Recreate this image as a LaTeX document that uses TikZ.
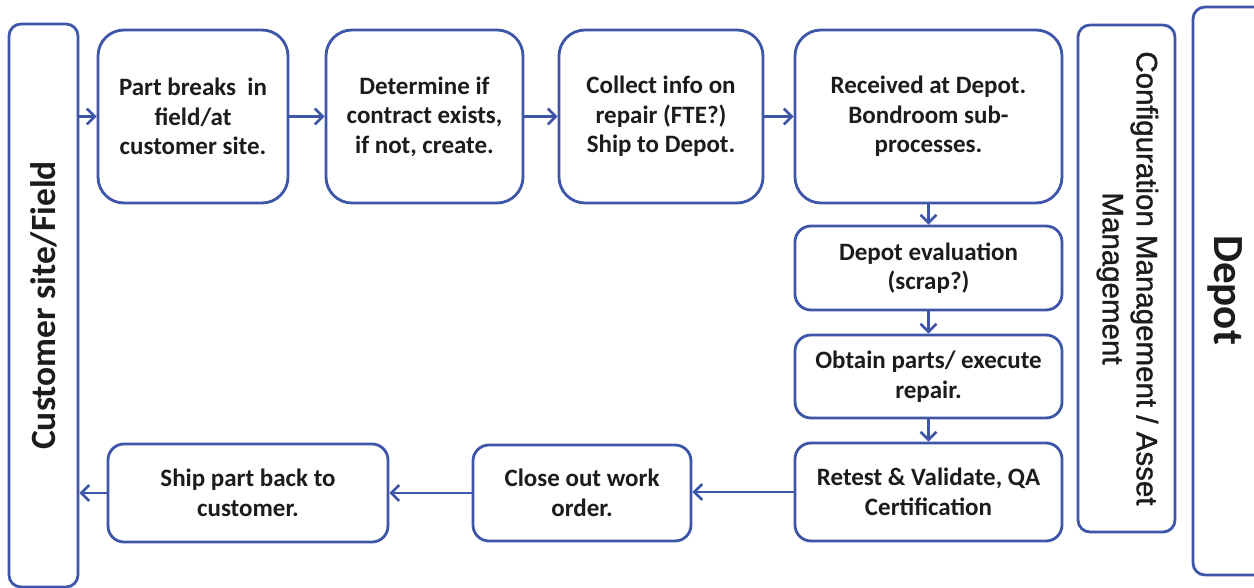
\documentclass[tikz,border=0pt]{standalone}
\usepackage{fontspec}
\setmainfont{Carlito}
\newfontfamily\widesans[FakeBold=1.2]{Liberation Sans}
\usetikzlibrary{arrows.meta}
\definecolor{flowblue}{RGB}{62,86,168}
\definecolor{inkgray}{RGB}{28,28,28}
\begin{document}
\begin{tikzpicture}[x=1pt,y=-1pt,
  proc/.style={draw=flowblue, line width=2.8pt, rounded corners=#1, fill=white,
    align=center, text=inkgray, inner sep=0pt,
    font=\bfseries\fontsize{25}{29.5}\selectfont},
  proc/.default=16pt,
  lane/.style={draw=flowblue, line width=2.8pt, rounded corners=12pt, inner sep=0pt, text=inkgray},
  flow/.style={draw=flowblue, line width=2.6pt, -{Straight Barb[length=8pt,width=16pt]}}
]
\useasboundingbox (0,0) rectangle (1254,588);

% swim lanes
\node[lane, minimum width=69pt, minimum height=563pt,
  font=\bfseries\fontsize{35.5}{40}\selectfont] (field) at (43.5,305.5)
  {\rotatebox{90}{Customer site/Field}};
\node[lane, minimum width=97pt, minimum height=507pt,
  font=\widesans\fontsize{29.5}{34}\selectfont] (config) at (1126.5,278.5)
  {\rotatebox{-90}{\begin{tabular}{@{}c@{}}Configuration Management / Asset\\Management\end{tabular}}};
\begin{scope}
  \clip (0,0) rectangle (1254,588);
  \node[lane, minimum width=130pt, minimum height=568pt] (depot) at (1258,291) {};
  \node[text=inkgray, inner sep=0pt, font=\bfseries\fontsize{43}{48}\selectfont]
    (depotlabel) at (1225,290) {\rotatebox{-90}{Depot}};
\end{scope}

% process steps
\node[proc=26pt, minimum width=190pt, minimum height=173pt] (s1) at (193,116.5)
  {Part breaks\ \ in\\field/at\\customer site.};
\node[proc=26pt, minimum width=197pt, minimum height=173pt] (s2) at (424.5,116.5)
  {Determine if\\contract exists,\\if not, create.};
\node[proc=26pt, minimum width=204pt, minimum height=173pt] (s3) at (661,116.5)
  {Collect info on\\repair (FTE?)\\Ship to Depot.};
\node[proc=26pt, minimum width=267pt, minimum height=173pt] (s4) at (928.5,116.5)
  {Received at Depot.\\Bondroom sub-\\processes.};
\node[proc, minimum width=267pt, minimum height=84pt] (s5) at (928.5,268)
  {Depot evaluation\\(scrap?)};
\node[proc, minimum width=267pt, minimum height=83pt] (s6) at (928.5,376.5)
  {Obtain parts/ execute\\repair.};
\node[proc, minimum width=267pt, minimum height=98pt] (s7) at (928.5,492)
  {Retest \& Validate, QA\\Certification};
\node[proc, minimum width=218pt, minimum height=96pt] (s8) at (582,493)
  {Close out work\\order.};
\node[proc, minimum width=280pt, minimum height=98pt] (s9) at (248,493)
  {Ship part back to\\customer.};

% connectors
\draw[flow] (field.east |- s1.west) -- (s1.west);
\draw[flow] (s1) -- (s2);
\draw[flow] (s2) -- (s3);
\draw[flow] (s3) -- (s4);
\draw[flow] (s4) -- (s5);
\draw[flow] (s5) -- (s6);
\draw[flow] (s6) -- (s7);
\draw[flow] (s7.west) -- (s8.east |- s7.west);
\draw[flow] (s8) -- (s9);
\draw[flow] (s9.west) -- (field.east |- s9.west);
\end{tikzpicture}
\end{document}
